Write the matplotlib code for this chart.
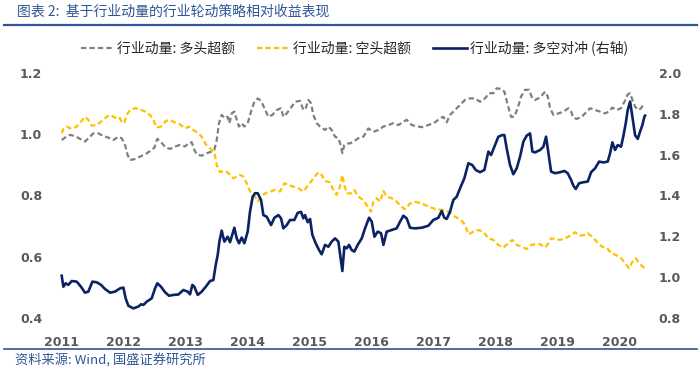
import matplotlib
matplotlib.use("Agg")
import matplotlib.pyplot as plt
from matplotlib.lines import Line2D

plt.rcParams['font.family'] = ['Noto Sans CJK SC', 'DejaVu Sans']

# decimal-year x positions and values
gray_x = [2011.011, 2011.064, 2011.145, 2011.225, 2011.306, 2011.386, 2011.440, 2011.521, 2011.601, 2011.682,
          2011.762, 2011.843, 2011.923, 2011.977, 2012.031, 2012.073, 2012.111, 2012.192, 2012.272, 2012.353,
          2012.433, 2012.503, 2012.551, 2012.610, 2012.685, 2012.755, 2012.836, 2012.916, 2012.997, 2013.050,
          2013.104, 2013.147, 2013.185, 2013.265, 2013.346, 2013.416, 2013.469, 2013.507, 2013.544, 2013.587,
          2013.641, 2013.684, 2013.711, 2013.748, 2013.791, 2013.829, 2013.866, 2013.909, 2013.952, 2014.006,
          2014.060, 2014.113, 2014.167, 2014.221, 2014.274, 2014.339, 2014.403, 2014.473, 2014.543, 2014.580,
          2014.634, 2014.714, 2014.768, 2014.849, 2014.902, 2014.940, 2014.983, 2015.026, 2015.063, 2015.117,
          2015.171, 2015.251, 2015.305, 2015.358, 2015.412, 2015.466, 2015.503, 2015.530, 2015.562, 2015.600,
          2015.654, 2015.707, 2015.788, 2015.869, 2015.949, 2016.030, 2016.110, 2016.191, 2016.271, 2016.352,
          2016.432, 2016.513, 2016.566, 2016.647, 2016.700, 2016.807, 2016.915, 2017.022, 2017.103, 2017.156,
          2017.210, 2017.264, 2017.344, 2017.425, 2017.505, 2017.586, 2017.666, 2017.747, 2017.827, 2017.892,
          2017.961, 2018.015, 2018.085, 2018.139, 2018.192, 2018.246, 2018.300, 2018.353, 2018.407, 2018.471,
          2018.536, 2018.590, 2018.633, 2018.714, 2018.794, 2018.837, 2018.875, 2018.928, 2019.009, 2019.089,
          2019.170, 2019.213, 2019.250, 2019.304, 2019.385, 2019.438, 2019.519, 2019.599, 2019.680, 2019.760,
          2019.825, 2019.878, 2019.948, 2020.018, 2020.072, 2020.125, 2020.163, 2020.200, 2020.243, 2020.297,
          2020.340, 2020.377]
gray_y = [0.981, 0.989, 0.998, 0.994, 0.985, 0.976, 0.987, 1.003, 1.003, 0.994,
          0.989, 0.981, 0.992, 0.987, 0.965, 0.932, 0.916, 0.919, 0.927, 0.934,
          0.945, 0.956, 0.985, 0.974, 0.957, 0.952, 0.960, 0.965, 0.960, 0.970,
          0.974, 0.949, 0.934, 0.930, 0.938, 0.943, 0.949, 0.981, 1.036, 1.063,
          1.052, 1.057, 1.036, 1.068, 1.074, 1.047, 1.025, 1.036, 1.025, 1.036,
          1.074, 1.106, 1.117, 1.109, 1.085, 1.057, 1.063, 1.079, 1.085, 1.057,
          1.068, 1.090, 1.106, 1.109, 1.079, 1.085, 1.112, 1.101, 1.063, 1.036,
          1.025, 1.014, 1.025, 1.014, 0.992, 0.987, 0.965, 0.938, 0.965, 0.970,
          0.970, 0.976, 0.987, 0.992, 1.019, 1.008, 1.014, 1.025, 1.030, 1.036,
          1.030, 1.041, 1.047, 1.030, 1.027, 1.023, 1.030, 1.039, 1.052, 1.057,
          1.039, 1.063, 1.079, 1.096, 1.112, 1.117, 1.117, 1.106, 1.117, 1.134,
          1.134, 1.150, 1.148, 1.139, 1.096, 1.057, 1.057, 1.085, 1.123, 1.145,
          1.145, 1.117, 1.112, 1.120, 1.139, 1.123, 1.085, 1.063, 1.068, 1.074,
          1.085, 1.074, 1.054, 1.050, 1.057, 1.068, 1.085, 1.079, 1.074, 1.068,
          1.074, 1.087, 1.079, 1.085, 1.106, 1.130, 1.134, 1.112, 1.090, 1.079,
          1.085, 1.098]

yellow_x = [2011.011, 2011.038, 2011.091, 2011.172, 2011.252, 2011.322, 2011.386, 2011.440, 2011.494, 2011.574,
            2011.655, 2011.735, 2011.789, 2011.869, 2011.934, 2011.977, 2012.014, 2012.057, 2012.111, 2012.192,
            2012.272, 2012.353, 2012.433, 2012.487, 2012.540, 2012.610, 2012.685, 2012.755, 2012.836, 2012.916,
            2012.997, 2013.061, 2013.131, 2013.211, 2013.265, 2013.330, 2013.399, 2013.469, 2013.507, 2013.560,
            2013.614, 2013.668, 2013.721, 2013.775, 2013.829, 2013.882, 2013.936, 2013.990, 2014.043, 2014.113,
            2014.167, 2014.221, 2014.285, 2014.366, 2014.446, 2014.527, 2014.597, 2014.661, 2014.741, 2014.822,
            2014.902, 2014.983, 2015.063, 2015.144, 2015.197, 2015.251, 2015.331, 2015.385, 2015.439, 2015.492,
            2015.530, 2015.562, 2015.600, 2015.670, 2015.723, 2015.788, 2015.869, 2015.922, 2015.992, 2016.030,
            2016.083, 2016.137, 2016.191, 2016.244, 2016.325, 2016.405, 2016.475, 2016.539, 2016.620, 2016.700,
            2016.807, 2016.915, 2017.022, 2017.129, 2017.237, 2017.344, 2017.441, 2017.505, 2017.559, 2017.639,
            2017.720, 2017.800, 2017.881, 2017.961, 2018.042, 2018.122, 2018.203, 2018.267, 2018.337, 2018.418,
            2018.498, 2018.568, 2018.633, 2018.714, 2018.794, 2018.848, 2018.891, 2018.955, 2019.036, 2019.116,
            2019.197, 2019.277, 2019.358, 2019.428, 2019.481, 2019.546, 2019.626, 2019.707, 2019.787, 2019.857,
            2019.932, 2020.018, 2020.083, 2020.147, 2020.200, 2020.254, 2020.308, 2020.362, 2020.404]
yellow_y = [1.003, 1.017, 1.025, 1.017, 1.025, 1.041, 1.057, 1.047, 1.028, 1.030,
            1.043, 1.057, 1.063, 1.054, 1.057, 1.041, 1.036, 1.063, 1.079, 1.085,
            1.081, 1.074, 1.063, 1.047, 1.022, 1.025, 1.043, 1.047, 1.038, 1.032,
            1.019, 1.025, 1.014, 1.003, 0.992, 0.967, 0.954, 0.941, 0.900, 0.876,
            0.880, 0.878, 0.867, 0.856, 0.862, 0.867, 0.862, 0.840, 0.813, 0.800,
            0.780, 0.796, 0.807, 0.813, 0.818, 0.813, 0.840, 0.834, 0.829, 0.823,
            0.813, 0.834, 0.856, 0.876, 0.867, 0.847, 0.843, 0.818, 0.802, 0.829,
            0.867, 0.834, 0.807, 0.807, 0.818, 0.796, 0.785, 0.769, 0.747, 0.780,
            0.791, 0.780, 0.815, 0.796, 0.791, 0.780, 0.764, 0.755, 0.774, 0.779,
            0.774, 0.764, 0.756, 0.753, 0.747, 0.731, 0.720, 0.704, 0.673, 0.682,
            0.687, 0.682, 0.660, 0.655, 0.638, 0.630, 0.644, 0.655, 0.638, 0.633,
            0.625, 0.638, 0.641, 0.641, 0.630, 0.644, 0.660, 0.658, 0.655, 0.660,
            0.669, 0.680, 0.669, 0.671, 0.677, 0.666, 0.649, 0.633, 0.630, 0.611,
            0.606, 0.595, 0.579, 0.562, 0.584, 0.595, 0.579, 0.568, 0.562]

navy_x = [2011.011, 2011.038, 2011.075, 2011.118, 2011.172, 2011.252, 2011.322, 2011.386, 2011.440, 2011.505,
          2011.574, 2011.644, 2011.708, 2011.789, 2011.869, 2011.950, 2012.004, 2012.041, 2012.084, 2012.165,
          2012.245, 2012.288, 2012.326, 2012.380, 2012.460, 2012.514, 2012.551, 2012.610, 2012.675, 2012.739,
          2012.809, 2012.889, 2012.970, 2013.040, 2013.077, 2013.115, 2013.147, 2013.201, 2013.265, 2013.330,
          2013.399, 2013.453, 2013.491, 2013.523, 2013.550, 2013.587, 2013.630, 2013.684, 2013.721, 2013.791,
          2013.829, 2013.866, 2013.909, 2013.952, 2014.006, 2014.043, 2014.086, 2014.124, 2014.167, 2014.221,
          2014.258, 2014.312, 2014.382, 2014.436, 2014.500, 2014.543, 2014.580, 2014.634, 2014.688, 2014.757,
          2014.811, 2014.865, 2014.902, 2014.929, 2014.972, 2015.010, 2015.047, 2015.101, 2015.154, 2015.197,
          2015.251, 2015.305, 2015.358, 2015.412, 2015.466, 2015.503, 2015.530, 2015.562, 2015.600, 2015.637,
          2015.680, 2015.723, 2015.777, 2015.842, 2015.895, 2015.960, 2016.003, 2016.046, 2016.099, 2016.153,
          2016.191, 2016.244, 2016.325, 2016.405, 2016.459, 2016.513, 2016.566, 2016.620, 2016.700, 2016.807,
          2016.915, 2016.995, 2017.076, 2017.129, 2017.172, 2017.210, 2017.264, 2017.317, 2017.371, 2017.425,
          2017.494, 2017.559, 2017.623, 2017.677, 2017.747, 2017.817, 2017.881, 2017.924, 2017.978, 2018.042,
          2018.106, 2018.139, 2018.176, 2018.230, 2018.283, 2018.337, 2018.391, 2018.445, 2018.498, 2018.552,
          2018.590, 2018.633, 2018.714, 2018.767, 2018.810, 2018.848, 2018.891, 2018.955, 2019.036, 2019.106,
          2019.159, 2019.213, 2019.250, 2019.288, 2019.342, 2019.411, 2019.481, 2019.535, 2019.599, 2019.664,
          2019.734, 2019.803, 2019.841, 2019.878, 2019.921, 2019.964, 2020.018, 2020.056, 2020.093, 2020.125,
          2020.163, 2020.200, 2020.243, 2020.286, 2020.324, 2020.361, 2020.393, 2020.404]
navy_y = [1.007, 0.953, 0.970, 0.962, 0.981, 0.978, 0.953, 0.924, 0.929, 0.978,
          0.975, 0.962, 0.942, 0.924, 0.929, 0.945, 0.949, 0.896, 0.860, 0.847,
          0.856, 0.867, 0.864, 0.880, 0.896, 0.945, 0.970, 0.953, 0.926, 0.909,
          0.913, 0.915, 0.937, 0.929, 0.916, 0.962, 0.953, 0.913, 0.929, 0.953,
          0.981, 0.986, 1.060, 1.109, 1.174, 1.228, 1.174, 1.198, 1.171, 1.242,
          1.190, 1.166, 1.194, 1.166, 1.223, 1.321, 1.394, 1.411, 1.411, 1.378,
          1.304, 1.296, 1.255, 1.291, 1.304, 1.288, 1.239, 1.255, 1.280, 1.280,
          1.315, 1.320, 1.288, 1.304, 1.269, 1.285, 1.207, 1.166, 1.133, 1.112,
          1.158, 1.149, 1.174, 1.190, 1.174, 1.092, 1.030, 1.149, 1.141, 1.158,
          1.133, 1.125, 1.158, 1.190, 1.239, 1.291, 1.272, 1.198, 1.223, 1.215,
          1.158, 1.223, 1.231, 1.239, 1.272, 1.301, 1.288, 1.242, 1.239, 1.242,
          1.252, 1.280, 1.291, 1.324, 1.291, 1.285, 1.321, 1.378, 1.394, 1.435,
          1.484, 1.558, 1.549, 1.525, 1.514, 1.525, 1.615, 1.598, 1.639, 1.688,
          1.696, 1.696, 1.631, 1.549, 1.504, 1.533, 1.590, 1.664, 1.693, 1.704,
          1.615, 1.611, 1.623, 1.639, 1.688, 1.607, 1.517, 1.509, 1.514, 1.520,
          1.509, 1.476, 1.448, 1.432, 1.460, 1.465, 1.468, 1.514, 1.533, 1.566,
          1.562, 1.566, 1.607, 1.660, 1.623, 1.647, 1.639, 1.693, 1.754, 1.819,
          1.860, 1.786, 1.696, 1.677, 1.713, 1.745, 1.786, 1.791]

years = list(range(2011, 2021))
left_ticks = [0.4, 0.6, 0.8, 1.0, 1.2]
right_ticks = [0.8, 1.0, 1.2, 1.4, 1.6, 1.8, 2.0]

labels = ['行业动量: 多头超额', '行业动量: 空头超额', '行业动量: 多空对冲 (右轴)']
title = '图表 2:  基于行业动量的行业轮动策略相对收益表现'
source = '资料来源: Wind, 国盛证券研究所'

blue = '#2F5597'
tick_color = '#595959'

fig = plt.figure(figsize=(7, 3.72), dpi=100)
ax = fig.add_axes([0.0783, 0.1452, 0.8606, 0.6586])
ax2 = ax.twinx()

l1, = ax.plot(gray_x, gray_y, color='#7F7F7F', lw=1.6, dashes=(2.4, 1.4))
l2, = ax.plot(yellow_x, yellow_y, color='#FFC000', lw=1.6, dashes=(2.4, 1.4))
l3, = ax2.plot(navy_x, navy_y, color='#0B2265', lw=1.9)

ax.set_xlim(2010.9, 2020.6)
ax.set_ylim(0.4, 1.2)
ax2.set_ylim(0.8, 2.0)
ax.set_xticks(years)
ax.set_xticklabels([str(y) for y in years])
ax.set_yticks(left_ticks)
ax.set_yticklabels([f'{v:.1f}' for v in left_ticks])
ax2.set_yticks(right_ticks)
ax2.set_yticklabels([f'{v:.1f}' for v in right_ticks])

for a in (ax, ax2):
    for s in a.spines.values():
        s.set_visible(False)
    a.tick_params(length=0, labelsize=9, labelcolor=tick_color)
    for lab in a.get_xticklabels() + a.get_yticklabels():
        lab.set_family('DejaVu Sans')
        lab.set_fontweight('bold')
ax.tick_params(axis='x', pad=13)
ax.tick_params(axis='y', pad=9)
ax2.tick_params(axis='y', pad=1)

fig.legend([l1, l2, l3], labels, loc='center', bbox_to_anchor=(0.506, 0.871),
           ncol=3, frameon=False, fontsize=10, handlelength=2.4, handletextpad=0.2,
           columnspacing=1.6, labelcolor='#262626')

fig.text(17 / 700, 1 - 12 / 372, title, color=blue, fontsize=10, va='center', ha='left')
fig.add_artist(Line2D([0.006, 0.996], [1 - 25 / 372] * 2, color=blue, lw=1.6))
fig.add_artist(Line2D([0.006, 0.996], [1 - 349 / 372] * 2, color=blue, lw=1.2))
fig.text(0.022, 1 - 360 / 372, source, color=blue, fontsize=9.5, va='center', ha='left')

fig.savefig('out.png', dpi=100)
